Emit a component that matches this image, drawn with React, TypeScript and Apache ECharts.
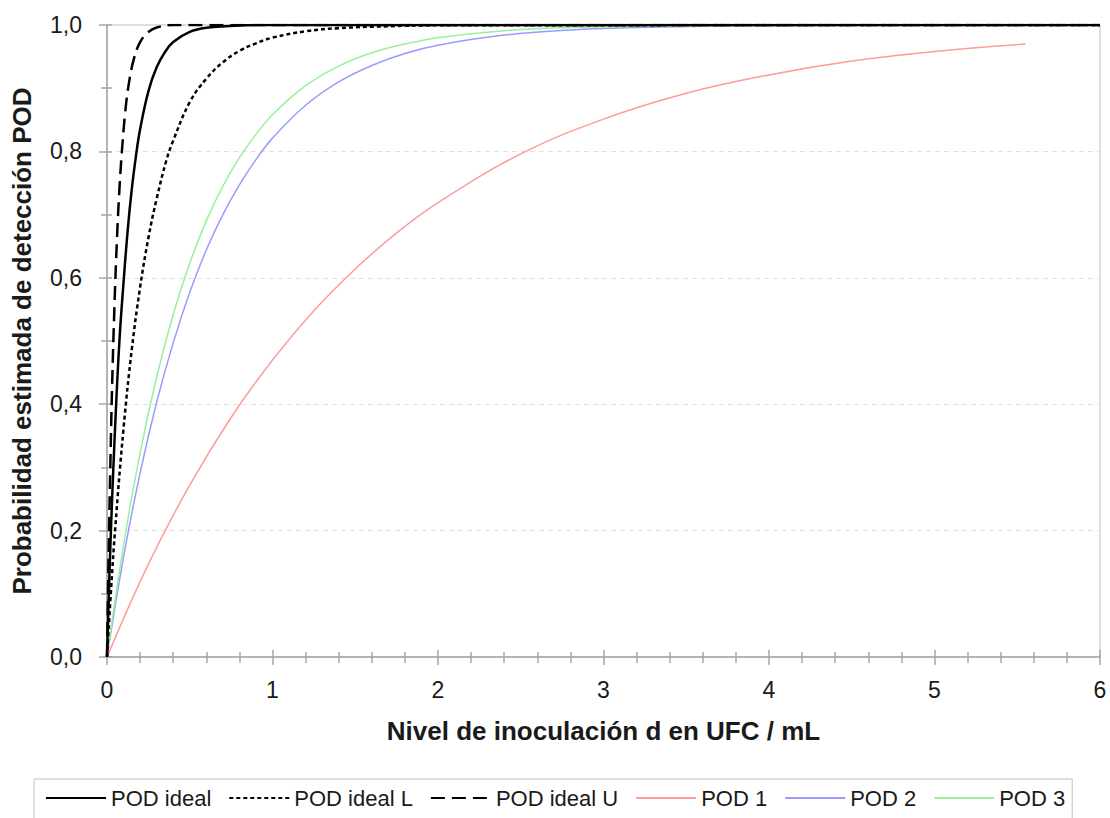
import React, { useEffect, useRef } from "react";
import * as echarts from "echarts";

// POD ideal (solid black)
const idealX = [0, 0.01, 0.025, 0.05, 0.075, 0.1, 0.125, 0.15, 0.175, 0.2, 0.25, 0.3, 0.35, 0.4, 0.5, 0.6, 0.8, 1.0, 6];
const idealY = [0, 0.09, 0.21, 0.37, 0.5, 0.593, 0.675, 0.741, 0.793, 0.835, 0.895, 0.933, 0.957, 0.973, 0.989, 0.9955, 0.9993, 1, 1];
// POD ideal L (dotted)
const idealLX = [0, 0.025, 0.05, 0.1, 0.15, 0.2, 0.25, 0.3, 0.36, 0.4, 0.5, 0.6, 0.7, 0.8, 0.9, 1.0, 1.2, 1.4, 1.7, 2.0, 6];
const idealLY = [0, 0.109, 0.205, 0.362, 0.487, 0.585, 0.663, 0.725, 0.787, 0.817, 0.878, 0.915, 0.941, 0.959, 0.971, 0.98, 0.99, 0.995, 0.998, 0.9995, 1];
// POD ideal U (dashed)
const idealUX = [0, 0.01, 0.02, 0.03, 0.045, 0.06, 0.075, 0.09, 0.11, 0.13, 0.16, 0.2, 0.25, 0.3, 0.4, 6];
const idealUY = [0, 0.165, 0.3, 0.42, 0.555, 0.66, 0.74, 0.8, 0.862, 0.904, 0.944, 0.973, 0.989, 0.996, 1, 1];
// POD 1 (red)
const pod1X = [0, 0.25, 0.5, 0.75, 1, 1.25, 1.5, 1.75, 2, 2.5, 3, 3.5, 4, 4.5, 5, 5.55];
const pod1Y = [0, 0.147, 0.272, 0.379, 0.47, 0.548, 0.614, 0.671, 0.719, 0.796, 0.851, 0.892, 0.921, 0.943, 0.958, 0.97];
// POD 2 (blue)
const pod2X = [0, 0.1, 0.2, 0.3, 0.4, 0.5, 0.6, 0.7, 0.8, 0.9, 1.0, 1.2, 1.4, 1.6, 1.8, 2.0, 2.4, 2.8, 3.2, 3.6, 4.0, 5.55];
const pod2Y = [0, 0.158, 0.291, 0.403, 0.497, 0.577, 0.644, 0.7, 0.747, 0.787, 0.821, 0.873, 0.91, 0.936, 0.955, 0.968, 0.984, 0.992, 0.996, 0.998, 0.999, 1];
// POD 3 (green)
const pod3X = [0, 0.1, 0.2, 0.3, 0.4, 0.5, 0.6, 0.7, 0.8, 0.9, 1.0, 1.2, 1.4, 1.6, 1.8, 2.0, 2.4, 2.8, 3.2, 3.6, 4.0, 5.55];
const pod3Y = [0, 0.177, 0.323, 0.443, 0.542, 0.623, 0.69, 0.745, 0.79, 0.827, 0.858, 0.904, 0.935, 0.956, 0.97, 0.98, 0.991, 0.996, 0.998, 0.999, 1, 1];

const seriesNames = ["POD ideal", "POD ideal L", "POD ideal U", "POD 1", "POD 2", "POD 3"];

const pairs = (xs: number[], ys: number[]) => xs.map((x, i) => [x, ys[i]]);

const FONT = "'Liberation Sans', Arial, sans-serif";
const GRAY = "#a6a6a6";

export default function App() {
  const ref = useRef<HTMLDivElement>(null);
  useEffect(() => {
    if (!ref.current) return;
    const chart = echarts.init(ref.current, undefined, { renderer: "svg" });
    const lineBase = { type: "line", showSymbol: false, symbol: "none", smooth: 0.4, xAxisIndex: 0, yAxisIndex: 0 };
    chart.setOption({
      animation: false,
      backgroundColor: "#ffffff",
      grid: { left: 107, right: 10, top: 25, bottom: 161, show: true, borderColor: "#bfbfbf", borderWidth: 1, backgroundColor: "transparent" },
      legend: {
        data: seriesNames,
        left: 34,
        top: 779,
        orient: "horizontal",
        padding: [8, 7, 40, 11],
        itemGap: 17,
        itemWidth: 60,
        itemHeight: 22,
        borderColor: "#bfbfbf",
        borderWidth: 1,
        itemStyle: { opacity: 0, borderWidth: 0 },
        textStyle: { fontFamily: FONT, fontSize: 22, color: "#1a1a1a" },
      },
      xAxis: [
        {
          type: "value",
          min: 0,
          max: 6,
          interval: 1,
          name: "Nivel de inoculación d en UFC / mL",
          nameLocation: "middle",
          nameGap: 61,
          nameTextStyle: { fontFamily: FONT, fontSize: 26, fontWeight: "bold", color: "#1a1a1a" },
          axisLine: { show: true, lineStyle: { color: GRAY, width: 1.5 } },
          axisTick: { show: true, length: 8, lineStyle: { color: GRAY, width: 1.5 } },
          minorTick: { show: true, splitNumber: 5, length: 6, lineStyle: { color: GRAY, width: 1.5 } },
          axisLabel: { fontFamily: FONT, fontSize: 23, color: "#1a1a1a", margin: 21 },
          splitLine: { show: false },
        },
        {
          type: "value",
          min: 0,
          max: 6,
          interval: 1,
          position: "bottom",
          axisLine: { show: false },
          axisTick: { show: true, inside: true, length: 7, lineStyle: { color: GRAY, width: 1.5 } },
          minorTick: { show: true, splitNumber: 5, length: 5, lineStyle: { color: GRAY, width: 1.5 } },
          axisLabel: { show: false },
          splitLine: { show: false },
        },
      ],
      yAxis: [
        {
          type: "value",
          min: 0,
          max: 1,
          interval: 0.2,
          name: "Probabilidad estimada de detección POD",
          nameLocation: "middle",
          nameGap: 72,
          nameTextStyle: { fontFamily: FONT, fontSize: 26, fontWeight: "bold", color: "#1a1a1a" },
          axisLine: { show: true, lineStyle: { color: GRAY, width: 1.5 } },
          axisTick: { show: true, length: 8, lineStyle: { color: GRAY, width: 1.5 } },
          minorTick: { show: true, splitNumber: 2, length: 6, lineStyle: { color: GRAY, width: 1.5 } },
          axisLabel: {
            fontFamily: FONT,
            fontSize: 23,
            color: "#1a1a1a",
            margin: 25,
            formatter: (v: number) => v.toFixed(1).replace(".", ","),
          },
          splitLine: { show: true, lineStyle: { color: "#e0e0e0", type: [5, 4], width: 1 } },
        },
        {
          type: "value",
          min: 0,
          max: 1,
          interval: 0.2,
          position: "left",
          axisLine: { show: false },
          axisTick: { show: true, inside: true, length: 5, lineStyle: { color: GRAY, width: 1.5 } },
          minorTick: { show: true, splitNumber: 2, length: 5, lineStyle: { color: GRAY, width: 1.5 } },
          axisLabel: { show: false },
          splitLine: { show: false },
        },
      ],
      series: [
        { ...lineBase, name: seriesNames[0], data: pairs(idealX, idealY), z: 5, lineStyle: { color: "#000000", width: 2.5, type: "solid" }, itemStyle: { color: "#000000" } },
        { ...lineBase, name: seriesNames[1], data: pairs(idealLX, idealLY), z: 5, lineStyle: { color: "#000000", width: 2.5, type: [4, 3] }, itemStyle: { color: "#000000" } },
        { ...lineBase, name: seriesNames[2], data: pairs(idealUX, idealUY), z: 5, lineStyle: { color: "#000000", width: 2.5, type: [14, 7] }, itemStyle: { color: "#000000" } },
        { ...lineBase, name: seriesNames[3], data: pairs(pod1X, pod1Y), z: 3, lineStyle: { color: "#ff9a9a", width: 1.5 }, itemStyle: { color: "#ff9a9a" } },
        { ...lineBase, name: seriesNames[4], data: pairs(pod2X, pod2Y), z: 3, lineStyle: { color: "#9a9aff", width: 1.5 }, itemStyle: { color: "#9a9aff" } },
        { ...lineBase, name: seriesNames[5], data: pairs(pod3X, pod3Y), z: 4, lineStyle: { color: "#9af09a", width: 1.5 }, itemStyle: { color: "#9af09a" } },
      ],
    });
    return () => chart.dispose();
  }, []);
  return <div ref={ref} style={{ position: "fixed", left: 0, top: 0, width: 1110, height: 818, background: "#fff" }} />;
}
